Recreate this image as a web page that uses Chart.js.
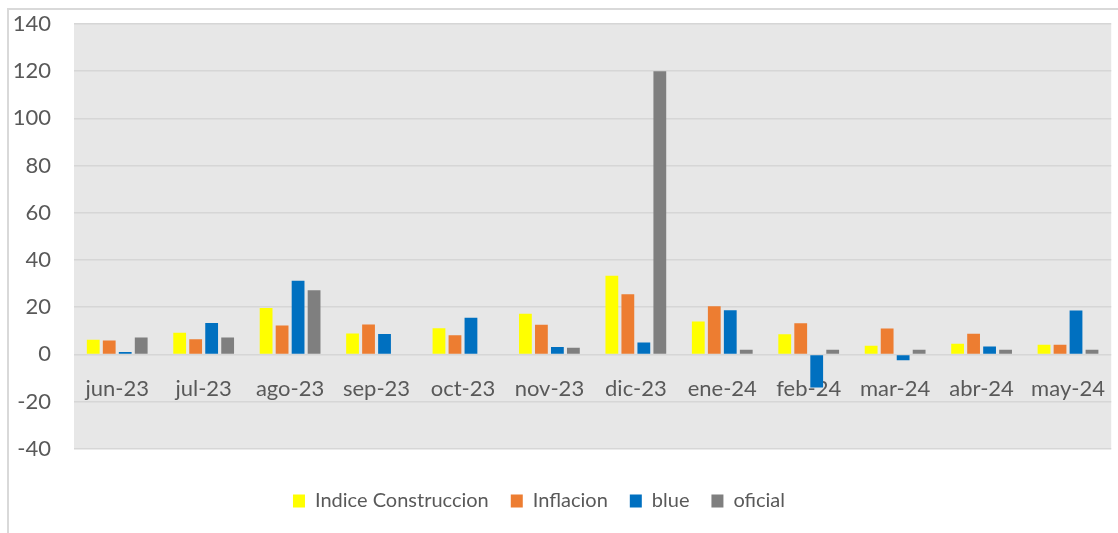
<!DOCTYPE html>
<html>
<head>
<meta charset="utf-8">
<script src="https://cdn.jsdelivr.net/npm/chart.js@4"></script>
<style>
  html, body { margin: 0; padding: 0; background: #fff; }
  #wrap { position: relative; width: 1118px; height: 533px; }
</style>
</head>
<body>
<div id="wrap"><canvas id="graficoIndices"></canvas></div>
<script>
// meses del período
var meses = ['jun-23', 'jul-23', 'ago-23', 'sep-23', 'oct-23', 'nov-23',
             'dic-23', 'ene-24', 'feb-24', 'mar-24', 'abr-24', 'may-24'];

// variación mensual (%) de cada serie
var indiceConstruccion = [6.2, 9.2, 19.7, 8.9, 11.1, 17.2, 33.3, 13.9, 8.5, 3.7, 4.5, 4.1];
var inflacion          = [5.9, 6.4, 12.2, 12.7, 8.1, 12.6, 25.5, 20.4, 13.2, 11.0, 8.7, 4.1];
var blue               = [1.0, 13.3, 31.2, 8.6, 15.5, 3.1, 5.0, 18.7, -14.0, -2.5, 3.3, 18.6];
var oficial            = [7.2, 7.2, 27.2, null, null, 2.8, 120, 2.0, 2.0, 2.0, 2.0, 2.0];

var fuente = 'Lato, "Liberation Sans", sans-serif';

// fondo gris del área de trazado y marco exterior
var fondoArea = {
    id: 'fondoArea',
    beforeDraw: function (chart) {
        var c = chart.ctx, a = chart.chartArea;
        c.save();
        c.fillStyle = '#e7e7e7';
        c.fillRect(a.left, a.top, a.right - a.left, a.bottom - a.top);
        c.strokeStyle = '#d9d9d9';
        c.lineWidth = 2;
        c.beginPath();
        c.moveTo(8, chart.height);
        c.lineTo(8, 9);
        c.lineTo(chart.width, 9);
        c.stroke();
        c.restore();
    },
    afterLayout: function (chart) {
        // la leyenda queda algo a la izquierda del centro
        chart.legend.left -= 19;
        chart.legend.right -= 19;
    }
};

var ctx = document.getElementById('graficoIndices').getContext('2d');

new Chart(ctx, {
    type: 'bar',
    data: {
        labels: meses,
        datasets: [
            { label: 'Indice Construccion', data: indiceConstruccion, backgroundColor: '#ffff00' },
            { label: 'Inflacion', data: inflacion, backgroundColor: '#ed7d31' },
            { label: 'blue', data: blue, backgroundColor: '#0070c0' },
            { label: 'oficial', data: oficial, backgroundColor: '#7f7f7f' }
        ]
    },
    options: {
        responsive: true,
        maintainAspectRatio: false,
        animation: false,
        layout: { padding: { left: 0, right: 2, top: 0, bottom: 12 } },
        datasets: {
            bar: { categoryPercentage: 0.74, barPercentage: 0.8 }
        },
        scales: {
            x: {
                position: { y: 0 },
                grid: { display: false },
                border: { display: false },
                ticks: {
                    color: '#595959',
                    font: { family: fuente, size: 22 },
                    padding: 13,
                    maxRotation: 0
                }
            },
            y: {
                min: -40,
                max: 140,
                afterFit: function (scale) {
                    scale.width = 74;
                    scale.paddingTop = 24;
                },
                grid: { color: '#d6d6d6', lineWidth: 1.5, drawTicks: false },
                border: { display: false },
                ticks: {
                    stepSize: 20,
                    color: '#595959',
                    font: { family: fuente, size: 22 },
                    padding: 23
                }
            }
        },
        plugins: {
            legend: {
                position: 'bottom',
                // título vacío: solo deja aire entre el gráfico y la leyenda
                title: { display: true, text: ' ', font: { size: 1 }, padding: { top: 19, bottom: 0 } },
                labels: {
                    color: '#595959',
                    font: { family: fuente, size: 20 },
                    boxWidth: 12,
                    boxHeight: 13,
                    padding: 22
                }
            },
            tooltip: { enabled: false }
        }
    },
    plugins: [fondoArea]
});
</script>
</body>
</html>
